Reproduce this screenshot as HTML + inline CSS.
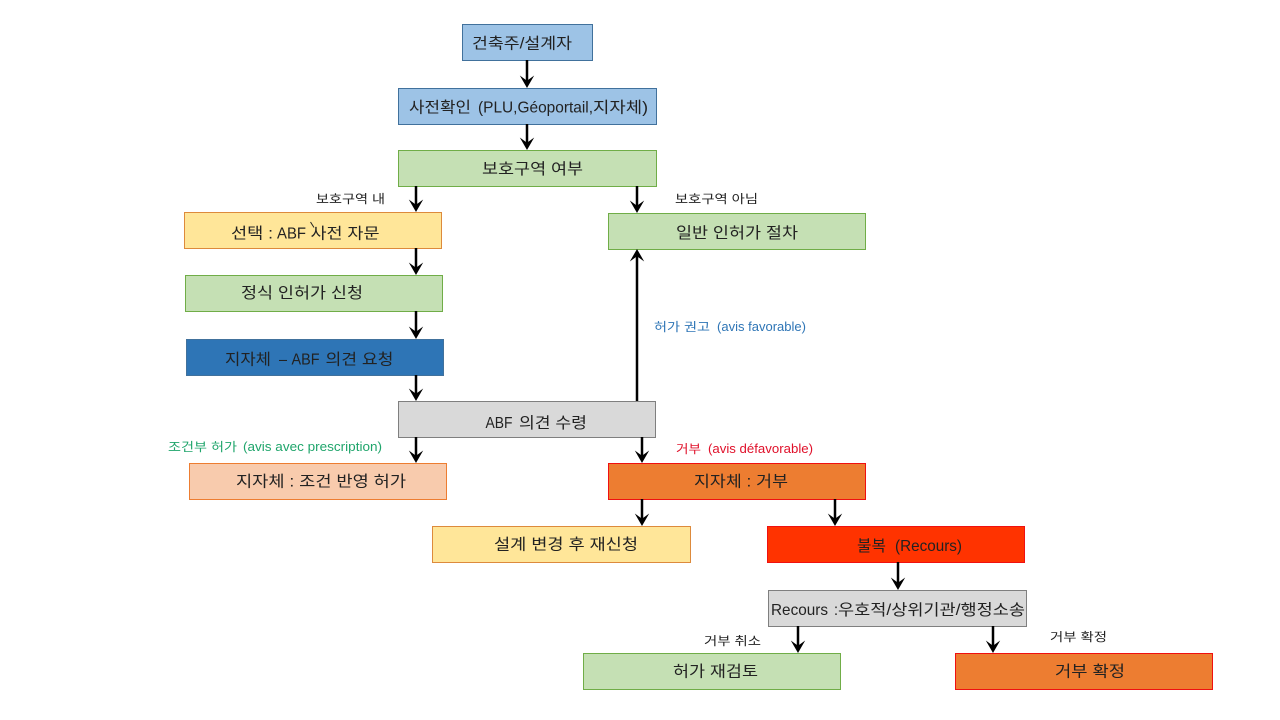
<!DOCTYPE html>
<html lang="ko">
<head>
<meta charset="utf-8">
<title>인허가 절차</title>
<style>
html,body{margin:0;padding:0;background:#fff;width:1280px;height:720px;overflow:hidden}
svg{display:block}
text{font-family:"Liberation Sans","Noto Sans CJK KR",sans-serif;fill:#222;dominant-baseline:central}
.b{font-size:15.5px}
.l{font-size:12px}
.n{font-size:16px}
.m{font-size:12.5px}
line.c{stroke:#000;stroke-width:2.5}
</style>
</head>
<body>
<svg width="1280" height="720" viewBox="0 0 1280 720" xmlns="http://www.w3.org/2000/svg">
<defs>
<path id="d" d="M0 0 L-7.2 -12.5 L-1 -8 L1 -8 L7.2 -12.5 Z" fill="#000"/>
<path id="u" d="M0 0 L-7.2 12.5 L-1 8 L1 8 L7.2 12.5 Z" fill="#000"/>
</defs>

<!-- boxes -->
<g stroke-width="1">
<rect x="462.5" y="24.5" width="130" height="36" fill="#9DC3E6" stroke="#41719C"/>
<rect x="398.5" y="88.5" width="258" height="36" fill="#9DC3E6" stroke="#41719C"/>
<rect x="398.5" y="150.5" width="258" height="36" fill="#C5E0B4" stroke="#70AD47"/>
<rect x="184.5" y="212.5" width="257" height="36" fill="#FFE699" stroke="#DD8A3C"/>
<rect x="608.5" y="213.5" width="257" height="36" fill="#C5E0B4" stroke="#70AD47"/>
<rect x="185.5" y="275.5" width="257" height="36" fill="#C5E0B4" stroke="#70AD47"/>
<rect x="186.5" y="339.5" width="257" height="36" fill="#2E75B6" stroke="#41719C"/>
<rect x="398.5" y="401.5" width="257" height="36" fill="#D9D9D9" stroke="#7F7F7F"/>
<rect x="189.5" y="463.5" width="257" height="36" fill="#F8CBAD" stroke="#ED7D31"/>
<rect x="608.5" y="463.5" width="257" height="36" fill="#ED7D31" stroke="#F01010"/>
<rect x="432.5" y="526.5" width="258" height="36" fill="#FFE699" stroke="#DD8A3C"/>
<rect x="767.5" y="526.5" width="257" height="36" fill="#FF3300" stroke="#F01010"/>
<rect x="768.5" y="590.5" width="258" height="36" fill="#D9D9D9" stroke="#7F7F7F"/>
<rect x="583.5" y="653.5" width="257" height="36" fill="#C5E0B4" stroke="#70AD47"/>
<rect x="955.5" y="653.5" width="257" height="36" fill="#ED7D31" stroke="#F01010"/>
</g>

<!-- connectors -->
<g>
<line class="c" x1="527" y1="60" x2="527" y2="81"/><use href="#d" x="527" y="88"/>
<line class="c" x1="527" y1="124" x2="527" y2="143"/><use href="#d" x="527" y="150"/>
<line class="c" x1="416" y1="186" x2="416" y2="205"/><use href="#d" x="416" y="212"/>
<line class="c" x1="637" y1="186" x2="637" y2="206"/><use href="#d" x="637" y="213"/>
<line class="c" x1="416" y1="248" x2="416" y2="268"/><use href="#d" x="416" y="275"/>
<line class="c" x1="416" y1="311" x2="416" y2="332"/><use href="#d" x="416" y="339"/>
<line class="c" x1="416" y1="375" x2="416" y2="394"/><use href="#d" x="416" y="401"/>
<line class="c" x1="637" y1="401" x2="637" y2="256"/><use href="#u" x="637" y="249"/>
<line class="c" x1="416" y1="437" x2="416" y2="456"/><use href="#d" x="416" y="463"/>
<line class="c" x1="642" y1="437" x2="642" y2="456"/><use href="#d" x="642" y="463"/>
<line class="c" x1="642" y1="499" x2="642" y2="519"/><use href="#d" x="642" y="526"/>
<line class="c" x1="835" y1="499" x2="835" y2="519"/><use href="#d" x="835" y="526"/>
<line class="c" x1="898" y1="562" x2="898" y2="583"/><use href="#d" x="898" y="590"/>
<line class="c" x1="798" y1="626" x2="798" y2="646"/><use href="#d" x="798" y="653"/>
<line class="c" x1="993" y1="626" x2="993" y2="646"/><use href="#d" x="993" y="653"/>
</g>

<!-- box text -->
<text class="b" x="472" y="44" textLength="100" lengthAdjust="spacingAndGlyphs">건축주/설계자</text>
<text class="b" y="107.5"><tspan x="409" textLength="62" lengthAdjust="spacingAndGlyphs">사전확인</tspan> <tspan class="n" x="478" textLength="115" lengthAdjust="spacingAndGlyphs">(PLU,Géoportail,</tspan><tspan x="593" textLength="55" lengthAdjust="spacingAndGlyphs">지자체)</tspan></text>
<text class="b" x="482" y="169.5" textLength="101" lengthAdjust="spacingAndGlyphs">보호구역 여부</text>
<text class="b" y="233.5"><tspan x="231" textLength="42" lengthAdjust="spacingAndGlyphs">선택 :</tspan> <tspan class="n" x="277" textLength="29" lengthAdjust="spacingAndGlyphs">ABF</tspan> <tspan x="310.5" textLength="69" lengthAdjust="spacingAndGlyphs">사전 자문</tspan></text>
<line x1="310.5" y1="222" x2="314" y2="227.5" stroke="#222" stroke-width="1"/>
<text class="b" x="676" y="233.5" textLength="122" lengthAdjust="spacingAndGlyphs">일반 인허가 절차</text>
<text class="b" x="241" y="293.5" textLength="122" lengthAdjust="spacingAndGlyphs">정식 인허가 신청</text>
<text class="b" y="359.5"><tspan x="225" textLength="46" lengthAdjust="spacingAndGlyphs">지자체</tspan> <tspan x="279" textLength="8" lengthAdjust="spacingAndGlyphs">–</tspan> <tspan class="n" x="291.5" textLength="28" lengthAdjust="spacingAndGlyphs">ABF</tspan> <tspan x="325.5" textLength="68" lengthAdjust="spacingAndGlyphs">의견 요청</tspan></text>
<text class="b" y="423"><tspan class="n" x="485.5" textLength="27" lengthAdjust="spacingAndGlyphs">ABF</tspan> <tspan x="519" textLength="68" lengthAdjust="spacingAndGlyphs">의견 수령</tspan></text>
<text class="b" x="236" y="482" textLength="170" lengthAdjust="spacingAndGlyphs">지자체 : 조건 반영 허가</text>
<text class="b" x="694" y="482" textLength="94" lengthAdjust="spacingAndGlyphs">지자체 : 거부</text>
<text class="b" x="494" y="545" textLength="144" lengthAdjust="spacingAndGlyphs">설계 변경 후 재신청</text>
<text class="b" y="546"><tspan x="857" textLength="29" lengthAdjust="spacingAndGlyphs">불복</tspan> <tspan class="n" x="895" textLength="67" lengthAdjust="spacingAndGlyphs">(Recours)</tspan></text>
<text class="b" y="610"><tspan class="n" x="771" textLength="57" lengthAdjust="spacingAndGlyphs">Recours</tspan> <tspan x="834" textLength="4" lengthAdjust="spacingAndGlyphs">:</tspan><tspan x="838" textLength="187" lengthAdjust="spacingAndGlyphs">우호적/상위기관/행정소송</tspan></text>
<text class="b" x="673" y="672" textLength="85" lengthAdjust="spacingAndGlyphs">허가 재검토</text>
<text class="b" x="1055" y="672" textLength="70" lengthAdjust="spacingAndGlyphs">거부 확정</text>

<!-- connector labels -->
<text class="l" x="316" y="199" textLength="69" lengthAdjust="spacingAndGlyphs">보호구역 내</text>
<text class="l" x="675" y="199" textLength="83" lengthAdjust="spacingAndGlyphs">보호구역 아님</text>
<text class="l" y="327" style="fill:#2E75B6"><tspan x="654" textLength="56" lengthAdjust="spacingAndGlyphs" style="fill:#2E75B6">허가 권고</tspan> <tspan class="m" x="717" textLength="89" lengthAdjust="spacingAndGlyphs" style="fill:#2E75B6">(avis favorable)</tspan></text>
<text class="l" y="447" style="fill:#1FA56B"><tspan x="168" textLength="69" lengthAdjust="spacingAndGlyphs" style="fill:#1FA56B">조건부 허가</tspan> <tspan class="m" x="243" textLength="139" lengthAdjust="spacingAndGlyphs" style="fill:#1FA56B">(avis avec prescription)</tspan></text>
<text class="l" y="449" style="fill:#E0102A"><tspan x="676" textLength="25" lengthAdjust="spacingAndGlyphs" style="fill:#E0102A">거부</tspan> <tspan class="m" x="708" textLength="105" lengthAdjust="spacingAndGlyphs" style="fill:#E0102A">(avis défavorable)</tspan></text>
<text class="l" x="704" y="641" textLength="57" lengthAdjust="spacingAndGlyphs">거부 취소</text>
<text class="l" x="1050" y="637" textLength="57" lengthAdjust="spacingAndGlyphs">거부 확정</text>
</svg>
</body>
</html>
